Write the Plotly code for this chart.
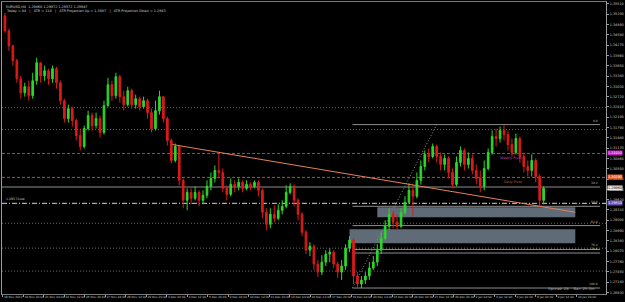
import plotly.graph_objects as go

# ---------------- data (EURUSD, H4) ----------------
first_open = 1.3515
closes = [1.3470,1.3425,1.3380,1.3326,1.3284,1.3302,1.3275,1.3320,1.3374,1.3335,
1.3350,1.3326,1.3356,1.3314,1.3260,1.3206,1.3236,1.3200,1.3155,1.3122,
1.3176,1.3215,1.3185,1.3206,1.3164,1.3245,1.3308,1.3275,1.3332,1.3272,
1.3248,1.3290,1.3248,1.3266,1.3242,1.3260,1.3224,1.3176,1.3230,1.3272,
1.3206,1.3140,1.3080,1.3122,1.3020,1.2960,1.2984,1.2966,1.2984,1.2960,
1.2975,1.3002,1.3026,1.3050,1.3044,1.2996,1.2978,1.3008,1.3002,1.3014,
1.2996,1.3008,1.3002,1.3014,1.2990,1.2924,1.2888,1.2918,1.2906,1.2930,
1.2942,1.2984,1.3002,1.2960,1.2918,1.2864,1.2810,1.2822,1.2768,1.2744,
1.2774,1.2798,1.2804,1.2768,1.2744,1.2762,1.2816,1.2840,1.2732,1.2708,
1.2720,1.2732,1.2756,1.2774,1.2810,1.2846,1.2882,1.2918,1.2894,1.2882,
1.2924,1.2954,1.2990,1.2972,1.3020,1.3062,1.3098,1.3092,1.3122,1.3092,
1.3068,1.3086,1.3044,1.3008,1.3074,1.3110,1.3068,1.3086,1.3050,1.3026,
1.3002,1.3056,1.3104,1.3152,1.3146,1.3170,1.3158,1.3128,1.3104,1.3146,
1.3092,1.3062,1.3050,1.3080,1.3032,1.2960,1.2996]
highs = [1.3524,1.3476,1.3428,1.3386,1.3335,1.3314,1.3320,1.3344,1.3389,1.3374,
1.3365,1.3356,1.3365,1.3362,1.3320,1.3266,1.3248,1.3242,1.3206,1.3176,
1.3185,1.3230,1.3224,1.3224,1.3215,1.3260,1.3329,1.3320,1.3344,1.3338,
1.3290,1.3302,1.3296,1.3278,1.3272,1.3272,1.3266,1.3236,1.3260,1.3290,
1.3272,1.3212,1.3146,1.3131,1.3125,1.3026,1.2996,1.2996,1.3002,1.2990,
1.2990,1.3020,1.3044,1.3065,1.3101,1.3056,1.3005,1.3026,1.3020,1.3026,
1.3020,1.3020,1.3014,1.3020,1.3020,1.2996,1.2936,1.2936,1.2945,1.2948,
1.2960,1.3005,1.3011,1.3008,1.2966,1.2924,1.2870,1.2834,1.2828,1.2780,
1.2795,1.2810,1.2816,1.2810,1.2774,1.2780,1.2828,1.2852,1.2846,1.2744,
1.2732,1.2744,1.2774,1.2792,1.2828,1.2864,1.2900,1.2936,1.2930,1.2918,
1.2936,1.2972,1.3011,1.3008,1.3044,1.3080,1.3110,1.3116,1.3131,1.3128,
1.3104,1.3098,1.3092,1.3056,1.3092,1.3122,1.3116,1.3104,1.3098,1.3068,
1.3050,1.3080,1.3116,1.3170,1.3176,1.3182,1.3188,1.3170,1.3146,1.3161,
1.3152,1.3104,1.3080,1.3098,1.3086,1.3038,1.3002]
lows = [1.3464,1.3410,1.3365,1.3314,1.3266,1.3272,1.3260,1.3266,1.3308,1.3314,
1.3320,1.3308,1.3314,1.3296,1.3248,1.3194,1.3194,1.3182,1.3140,1.3110,
1.3116,1.3170,1.3170,1.3176,1.3149,1.3158,1.3242,1.3260,1.3266,1.3254,
1.3230,1.3242,1.3236,1.3236,1.3230,1.3236,1.3206,1.3164,1.3170,1.3218,
1.3194,1.3125,1.3071,1.3074,1.3005,1.2936,1.2930,1.2948,1.2960,1.2942,
1.2948,1.2966,1.2990,1.3014,1.3026,1.2984,1.2960,1.2972,1.2984,1.2990,
1.2984,1.2990,1.2990,1.2996,1.2972,1.2906,1.2870,1.2876,1.2894,1.2900,
1.2918,1.2936,1.2978,1.2942,1.2900,1.2852,1.2798,1.2792,1.2750,1.2729,
1.2735,1.2762,1.2774,1.2756,1.2726,1.2720,1.2750,1.2804,1.2708,1.2696,
1.2696,1.2708,1.2720,1.2750,1.2762,1.2798,1.2840,1.2870,1.2876,1.2870,
1.2876,1.2918,1.2948,1.2912,1.2966,1.3008,1.3050,1.3074,1.3086,1.3074,
1.3050,1.3050,1.3026,1.2996,1.3002,1.3062,1.3050,1.3056,1.3038,1.3008,
1.2984,1.2990,1.3050,1.3098,1.3122,1.3134,1.3140,1.3110,1.3092,1.3098,
1.3074,1.3044,1.3032,1.3032,1.3014,1.2942,1.2948]

date_labels = ["18 Nov 2013","19 Nov 20:00","21 Nov 04:00","22 Nov 12:00","25 Nov 20:00",
"27 Nov 04:00","28 Nov 12:00","29 Nov 20:00","3 Dec 04:00","4 Dec 12:00",
"5 Dec 20:00","9 Dec 04:00","10 Dec 12:00","11 Dec 20:00","13 Dec 04:00",
"16 Dec 12:00","17 Dec 20:00","19 Dec 04:00","20 Dec 12:00","23 Dec 20:00",
"26 Dec 04:00","27 Dec 12:00","30 Dec 20:00","2 Jan 04:00","3 Jan 12:00",
"6 Jan 20:00","8 Jan 04:00","9 Jan 12:00","10 Jan 20:00"]

# drawn objects / levels
dotted_levels = [1.3239, 1.3173, 1.2891, 1.2816, 1.2747]
weekly_pivot = 1.3101
daily_pivot = 1.3029
low_level = 1.2951
trend_x = [42.25, 144.0]
trend_y = [1.3128, 1.2924]
zone_boxes = [([94.0, 144.0], [1.2909, 1.2939]), ([87.0, 144.0], [1.2831, 1.2873])]
fib_x = [87.75, 109.0, 150.25]
fib_high = 1.3188
fib_low = 1.2696
fib_ratios = [0.0, 0.382, 0.5, 0.618, 0.764, 0.786, 1.0]
fib_names = ["0.0", "38.2", "50.0", "61.8", "76.4", "78.6", "100.0"]

opens = [first_open] + closes[:-1]
xs = list(range(len(closes)))

fig = go.Figure(go.Candlestick(
    x=xs, open=opens, high=highs, low=lows, close=closes,
    increasing=dict(line=dict(color="#2bd82b", width=1), fillcolor="#2bd82b"),
    decreasing=dict(line=dict(color="#dc1a1a", width=1), fillcolor="#dc1a1a"),
    whiskerwidth=0, hoverinfo="skip", showlegend=False))

shapes = []
for lv in dotted_levels:
    shapes.append(dict(type="line", xref="paper", x0=0, x1=1, yref="y", y0=lv, y1=lv,
                       line=dict(color="#6a6a6a", width=1, dash="1px,2px"), layer="below"))
shapes.append(dict(type="line", xref="paper", x0=0, x1=1, yref="y", y0=weekly_pivot, y1=weekly_pivot,
                   line=dict(color="#7a4f96", width=1, dash="3px,2px"), layer="below"))
shapes.append(dict(type="line", xref="paper", x0=0, x1=1, yref="y", y0=daily_pivot, y1=daily_pivot,
                   line=dict(color="#9a5a48", width=1, dash="3px,2px"), layer="below"))
shapes.append(dict(type="line", xref="paper", x0=0, x1=1, yref="y", y0=low_level, y1=low_level,
                   line=dict(color="#d8d8d8", width=1, dash="5px,2px,1px,2px"), layer="below"))
for (bx, by) in zone_boxes:
    shapes.append(dict(type="rect", xref="x", yref="y", x0=bx[0], x1=bx[1], y0=by[0], y1=by[1],
                       fillcolor="#606b78", line=dict(width=0), layer="below"))
fib_span = fib_high - fib_low
fib_prices = [fib_high - r * fib_span for r in fib_ratios]
for r, fp in zip(fib_ratios, fib_prices):
    full = (r == 0.382)
    shapes.append(dict(type="line", xref="paper" if full else "x",
                       x0=0 if full else fib_x[0], x1=(150.25 + 0.75) / 152.5 if full else fib_x[2],
                       yref="y", y0=fp, y1=fp, line=dict(color="#8e8e8e", width=1), layer="below"))
shapes.append(dict(type="line", xref="x", yref="y", x0=fib_x[0], x1=fib_x[1], y0=fib_low, y1=fib_high,
                   line=dict(color="#8a8a8a", width=1, dash="1px,2px"), layer="below"))
shapes.append(dict(type="line", xref="x", yref="y", x0=trend_x[0], x1=trend_x[1], y0=trend_y[0], y1=trend_y[1],
                   line=dict(color="#e8805a", width=1)))

small = dict(family="DejaVu Sans", size=3.4, color="#d0d0d0")
ann = []
ann.append(dict(xref="paper", yref="paper", x=0, y=1, xanchor="left", yanchor="top", xshift=2, yshift=-1,
                text="EURUSD,H4  1.29868 1.29972 1.29572 1.29947", showarrow=False, font=small))
ann.append(dict(xref="paper", yref="paper", x=0, y=1, xanchor="left", yanchor="top", xshift=2, yshift=-5,
                text="Today = 84   |   ATR = 114   |   ATR Projection Up = 1.3087   |   ATR Projection Down = 1.2843",
                showarrow=False, font=small))
ann.append(dict(xref="paper", yref="y", x=0, y=low_level, xanchor="left", yanchor="bottom", xshift=2,
                text="1.2957/Low", showarrow=False, font=dict(family="DejaVu Sans", size=3.2, color="#c8c8c8")))
ann.append(dict(xref="x", yref="y", x=127.75, y=weekly_pivot, yanchor="top", yshift=-1,
                text="Weekly Pivot", showarrow=False, font=dict(family="DejaVu Sans", size=3.4, color="#c83cc8")))
ann.append(dict(xref="x", yref="y", x=128.5, y=daily_pivot, yanchor="top", yshift=-1,
                text="Daily Pivot", showarrow=False, font=dict(family="DejaVu Sans", size=3.4, color="#b8603c")))
for nm, fp in zip(fib_names, fib_prices):
    ann.append(dict(xref="x", yref="y", x=fib_x[2], y=fp, xanchor="right", yanchor="bottom",
                    text=nm, showarrow=False, font=dict(family="DejaVu Sans", size=3.0, color="#bdbdbd")))
ann.append(dict(xref="paper", yref="paper", x=0.985, y=0, xanchor="right", yanchor="bottom", yshift=1,
                text="Spread: 28    Bar: 2h 5m", showarrow=False, font=dict(family="DejaVu Sans", size=3.8, color="#a8a8a8")))
# right-axis colour tags
tags = [(weekly_pivot, "#c020c0", "#ffffff"), (daily_pivot, "#e0602a", "#ffffff"),
        (closes[-1], "#e8e8e8", "#000000"), (low_level, "#6a4fb0", "#ffffff")]
for price, bg, fc in tags:
    ann.append(dict(xref="paper", yref="y", x=1, y=price, xanchor="left", yanchor="middle", xshift=1,
                    text="%.5f" % price, showarrow=False, bgcolor=bg, borderpad=0,
                    font=dict(family="DejaVu Sans", size=3.4, color=fc)))

tick_step = 5.175
tickvals = [-0.5 + k * tick_step for k in range(len(date_labels))]

fig.update_layout(
    width=625, height=302,
    margin=dict(l=1, r=14, t=1, b=8),
    paper_bgcolor="#000000", plot_bgcolor="#000000",
    boxgap=0.4,
    shapes=shapes, annotations=ann,
    xaxis=dict(range=[-0.75, 151.75], rangeslider=dict(visible=False), showgrid=False, zeroline=False,
               showline=True, linecolor="#7a7a7a", mirror=True, ticks="outside", ticklen=2,
               tickcolor="#9a9a9a", tickvals=tickvals, ticktext=date_labels,
               ticklabelposition="outside right", tickangle=0,
               tickfont=dict(family="DejaVu Sans", size=2.9, color="#c8c8c8")),
    yaxis=dict(range=[1.2678, 1.3557], side="right", showgrid=False, zeroline=False,
               showline=True, linecolor="#9a9a9a", mirror=True, ticks="outside", ticklen=2,
               tickcolor="#9a9a9a", tick0=1.3551, dtick=0.0031, tickformat=".5f",
               tickfont=dict(family="DejaVu Sans", size=3.4, color="#c8c8c8")),
    hovermode=False,
)

fig.write_html("out.html")
